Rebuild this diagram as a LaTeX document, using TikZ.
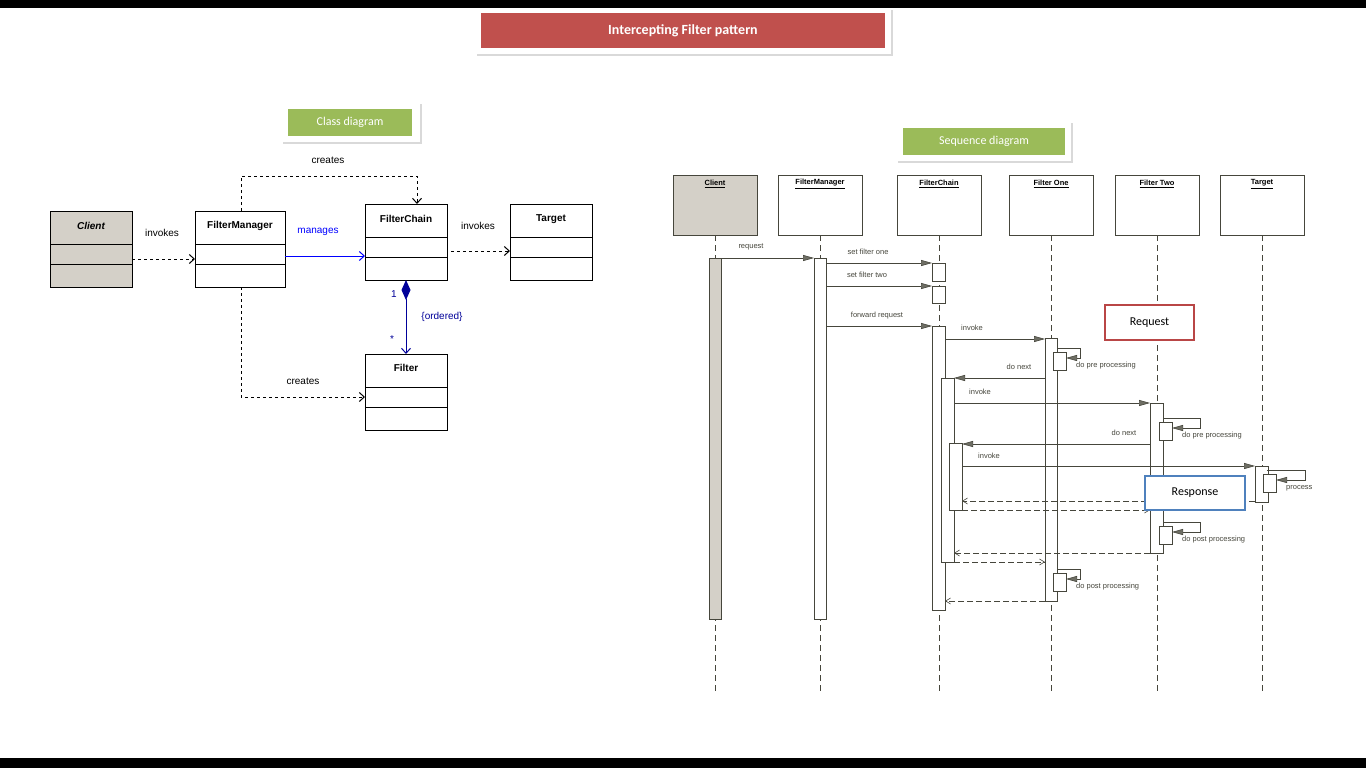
\documentclass[tikz,border=0pt]{standalone}
\usepackage{fontspec}
\setmainfont{Liberation Sans}
\newfontfamily\calfont{Carlito}
\usetikzlibrary{arrows.meta,shapes.geometric}
\definecolor{ttl}{RGB}{192,80,77}
\definecolor{grn}{RGB}{155,187,89}
\definecolor{ln}{RGB}{70,70,60}
\definecolor{tip}{RGB}{110,110,100}
\definecolor{cgray}{RGB}{212,208,200}
\definecolor{rq}{RGB}{185,70,70}
\definecolor{rs}{RGB}{79,129,189}
\begin{document}
\begin{tikzpicture}[x=1pt,y=-1pt,
  cls/.style={draw,line width=1pt},
  ctext/.style={font=\fontsize{10}{12}\selectfont\bfseries},
  lab/.style={font=\fontsize{10}{12}\selectfont},
  dep/.style={draw,dashed,line width=1pt,-{Straight Barb[length=5pt,width=9pt]}},
  msg/.style={draw=ln,line width=0.6pt,-{Triangle[length=11pt,width=6pt,fill=tip]}},
  ret/.style={draw=ln,dashed,dash pattern=on 6pt off 3pt,line width=0.6pt,-{Straight Barb[length=5pt,width=6pt]}},
  sl/.style={font=\fontsize{7.5}{9}\selectfont,text=ln,inner sep=0pt},
  act/.style={draw=ln,fill=white,line width=0.6pt},
  head/.style={draw=ln,fill=white,line width=0.8pt},
  life/.style={draw=ln,dashed,dash pattern=on 6pt off 4pt,line width=0.6pt},
  tag/.style={fill=grn,text=white,font=\calfont\fontsize{12}{14}\selectfont,inner sep=0pt}]
\useasboundingbox (0,0) rectangle (1366,768);
\fill[white] (0,0) rectangle (1366,768);
\fill[black] (0,0) rectangle (1366,8);
\fill[black] (0,758) rectangle (1366,768);
% title
\fill[gray!30] (477,10) rectangle (893,56);
\fill[white] (475,8) rectangle (891,54);
\node[fill=ttl,text=white,minimum width=404pt,minimum height=35pt,inner sep=0pt,font=\calfont\bfseries\fontsize{14}{16}\selectfont] (title) at (683,30.5) {Intercepting Filter pattern};
% tags
\fill[gray!30] (283,104) rectangle (422,144);
\fill[white] (281,102) rectangle (420,142);
\node[tag,minimum width=124pt,minimum height=27pt] (cd) at (350,122.5) {Class diagram};
\fill[gray!30] (898,123) rectangle (1073,163);
\fill[white] (896,121) rectangle (1071,161);
\node[tag,minimum width=162pt,minimum height=27pt] (sd) at (984,141.5) {Sequence diagram};
% class boxes
\filldraw[cls,fill=cgray] (50,211) rectangle (132,287);
\draw[line width=1pt] (50,244)--(132,244) (50,264)--(132,264);
\node[ctext,font=\fontsize{10}{12}\selectfont\bfseries\itshape] (client) at (91,226) {Client};
\draw[cls] (195,211) rectangle (285,287);
\draw[line width=1pt] (195,244)--(285,244) (195,264)--(285,264);
\node[ctext] (fm) at (240,226) {FilterManager};
\draw[cls] (365,204) rectangle (447,280);
\draw[line width=1pt] (365,237)--(447,237) (365,257)--(447,257);
\node[ctext] (fc) at (406,219) {FilterChain};
\draw[cls] (510,204) rectangle (592,280);
\draw[line width=1pt] (510,237)--(592,237) (510,257)--(592,257);
\node[ctext] (tg) at (551,219) {Target};
\draw[cls] (365,354) rectangle (447,430);
\draw[line width=1pt] (365,387)--(447,387) (365,407)--(447,407);
\node[ctext] (fl) at (406,368) {Filter};
\coordinate (c1) at (132,259); \coordinate (c2) at (195,259);
\path[dep] (c1)--(c2);
\node[lab] at (162,233) {invokes};
\coordinate (m1) at (285,256); \coordinate (m2) at (365,256);
\path[draw=blue,line width=1pt,-{Straight Barb[length=5pt,width=9pt]}] (m1)--(m2);
\node[lab,text=blue] at (318,232) {manages};
\coordinate (t1) at (451,251); \coordinate (t2) at (510,251);
\path[dep] (t1)--(t2);
\node[lab] at (478,226) {invokes};
\coordinate (k1) at (241,211); \coordinate (k2) at (417,204);
\path[dep] (k1)--(241,176)--(417,176)--(k2);
\node[lab] at (328,160) {creates};
\coordinate (b1) at (241,287); \coordinate (b2) at (365,397);
\path[dep] (b1)--(241,397)--(b2);
\node[lab] at (303,381) {creates};
\coordinate (d1) at (406,280); \coordinate (d2) at (406,354);
\path[draw=blue!60!black,line width=1pt,{Diamond[length=20pt,width=9pt,fill=blue!60!black]}-{Straight Barb[length=5pt,width=9pt]}] (d1)--(d2);
\node[lab,text=blue!60!black] at (394,294) {1};
\node[lab,text=blue!60!black] at (392,339) {*};
\node[lab,text=blue!60!black] at (442,317) {\{ordered\}};
% sequence heads
\foreach \n/\cx/\t in {sc/715/Client,sfm/820/FilterManager,sfc/939/FilterChain,sf1/1051/Filter One,sf2/1157/Filter Two,stg/1262/Target}{
  \draw[life] (\cx,235)--(\cx,692);
}
\filldraw[draw=ln,fill=cgray,line width=0.8pt] (673,175) rectangle (757,235);
\foreach \n/\cx/\t in {sfm/820/FilterManager,sfc/939/FilterChain,sf1/1051/Filter One,sf2/1157/Filter Two,stg/1262/Target}{
  \draw[head] (\cx-42,175) rectangle (\cx+42,235);
}
\foreach \n/\cx/\t in {sc/715/Client,sfm/820/FilterManager,sfc/939/FilterChain,sf1/1051/Filter One,sf2/1157/Filter Two,stg/1262/Target}{
  \node[font=\fontsize{7.5}{9}\selectfont\bfseries,inner sep=1pt] (\n) at (\cx,184) {\underline{\t}};
}
% activations
\filldraw[draw=ln,fill=cgray,line width=0.6pt] (709,258) rectangle (721,619);
\draw[act] (814,258) rectangle (826,619);
\draw[act] (932,263) rectangle (945,281);
\draw[act] (932,286) rectangle (945,303);
\draw[act] (932,326) rectangle (945,610);
\draw[act] (941,378) rectangle (954,562);
\draw[act] (949,443) rectangle (962,510);
\draw[act] (1045,338) rectangle (1057,601);
\draw[act] (1150,403) rectangle (1163,553);
\draw[act] (1255,466) rectangle (1268,502);
% self calls
\foreach \x/\y/\w/\t in {1053/352/1080/do pre processing,1053/573/1080/do post processing,1159/422/1200/do pre processing,1159/526/1200/do post processing,1263/474/1305/process}{
  \draw[act] (\x,\y) rectangle (\x+13,\y+18);
  \path[msg] (\x+4,\y-4)--(\w,\y-4)--(\w,\y+6)--(\x+13,\y+6);
  \node[sl,anchor=west] at (\x+23,\y+14) {\t};
}
% messages
\path[msg] (721,258)--(814,258); \node[sl] at (751,247) {request};
\path[msg] (826,263)--(932,263); \node[sl] at (868,252) {set filter one};
\path[msg] (826,286)--(932,286); \node[sl] at (867,275) {set filter two};
\path[msg] (826,326)--(932,326); \node[sl] at (877,316) {forward request};
\path[msg] (945,339)--(1045,339); \node[sl] at (972,328) {invoke};
\path[msg] (1045,378)--(954,378); \node[sl] at (1019,367) {do next};
\path[msg] (954,403)--(1150,403); \node[sl] at (980,392) {invoke};
\path[msg] (1150,444)--(962,444); \node[sl] at (1124,433) {do next};
\path[msg] (962,466)--(1255,466); \node[sl] at (989,456) {invoke};
\path[ret] (1255,501)--(962,501);
\path[ret] (962,510)--(1150,510);
\path[ret] (1150,553)--(954,553);
\path[ret] (954,562)--(1045,562);
\path[ret] (1045,601)--(945,601);
% request / response
\node[draw=rq,line width=2.2pt,fill=white,minimum width=89pt,minimum height=35pt,inner sep=0pt,font=\calfont\fontsize{12}{14}\selectfont] (req) at (1149.5,322.5) {Request};
\node[draw=rs,line width=2.2pt,fill=white,minimum width=100pt,minimum height=34pt,inner sep=0pt,font=\calfont\fontsize{12}{14}\selectfont] (resp) at (1195,493) {Response};
\end{tikzpicture}
\end{document}
